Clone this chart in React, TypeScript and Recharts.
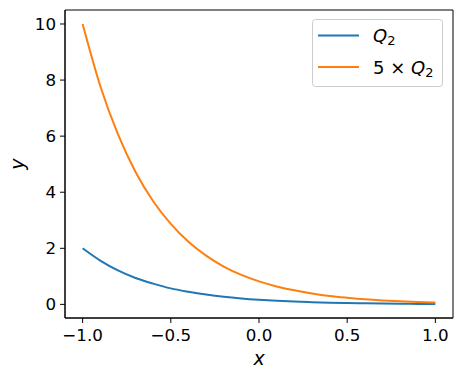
import React from 'react';
import { LineChart, Line, XAxis, YAxis, Legend, ReferenceArea } from 'recharts';

const xValues = [-1.0, -0.9, -0.8, -0.7, -0.6, -0.5, -0.4, -0.3, -0.2, -0.1, 0.0, 0.1, 0.2, 0.3, 0.4, 0.5, 0.6, 0.7, 0.8, 0.9, 1.0];
const q2Values = [2.0, 1.56, 1.21, 0.94, 0.74, 0.57, 0.45, 0.35, 0.27, 0.21, 0.164, 0.128, 0.1, 0.078, 0.06, 0.047, 0.036, 0.028, 0.022, 0.017, 0.0135];
const fiveQ2Values = [10.0, 7.79, 6.07, 4.72, 3.68, 2.87, 2.23, 1.74, 1.35, 1.05, 0.82, 0.64, 0.5, 0.39, 0.3, 0.235, 0.18, 0.14, 0.11, 0.087, 0.067];
const xTicks = [-1.0, -0.5, 0.0, 0.5, 1.0];
const yTicks = [0, 2, 4, 6, 8, 10];
const xDomain = [-1.1, 1.1];
const yDomain = [-0.486, 10.499];

const BLUE = '#1f77b4';
const ORANGE = '#ff7f0e';
const FONT = 'DejaVu Sans, sans-serif';
const TICK_SIZE = 16.7;

const data = xValues.map((x, i) => ({ x, q2: q2Values[i], q2x5: fiveQ2Values[i] }));

const fmtX = (v: number) => v.toFixed(1).replace('-', '\u2212');

const LegendBox = () => (
  <svg width={132} height={69} style={{ display: 'block' }}>
    <rect x={0.5} y={0.5} width={130} height={67} rx={3} ry={3} fill="rgba(255,255,255,0.8)" stroke="#cccccc" strokeWidth={1} />
    <line x1={6} x2={47} y1={16.5} y2={16.5} stroke={BLUE} strokeWidth={2} />
    <line x1={6} x2={47} y1={48} y2={48} stroke={ORANGE} strokeWidth={2} />
    <text x={61} y={23} fontFamily={FONT} fontSize={18} fill="#000">
      <tspan fontStyle="italic">Q</tspan>
      <tspan fontSize={13} dy={3}>2</tspan>
    </text>
    <text x={61} y={54.5} fontFamily={FONT} fontSize={18} fill="#000">
      <tspan>5 × </tspan>
      <tspan fontStyle="italic">Q</tspan>
      <tspan fontSize={13} dy={3}>2</tspan>
    </text>
  </svg>
);

export default function App() {
  return (
    <div style={{ position: 'absolute', left: 0, top: 0, background: '#fff' }}>
      <LineChart width={462} height={380} data={data} margin={{ top: 10, right: 9, bottom: 12, left: 0 }}>
        <XAxis
          dataKey="x"
          type="number"
          domain={xDomain}
          ticks={xTicks}
          tickFormatter={fmtX}
          height={50}
          tickSize={5}
          tickMargin={6}
          stroke="#000"
          tick={{ fill: '#000', fontSize: TICK_SIZE, fontFamily: FONT }}
          label={{
            content: (p: any) => {
              const vb = p.viewBox || {};
              return (
                <text x={vb.x + vb.width / 2} y={vb.y + 47} textAnchor="middle" fontFamily={FONT} fontStyle="italic" fontSize={19} fill="#000">x</text>
              );
            },
          }}
        />
        <YAxis
          type="number"
          domain={yDomain}
          ticks={yTicks}
          width={65}
          tickSize={5}
          tickMargin={4}
          stroke="#000"
          tick={{ fill: '#000', fontSize: TICK_SIZE, fontFamily: FONT }}
          label={{
            content: (p: any) => {
              const vb = p.viewBox || {};
              const cx = 24;
              const cy = vb.y + vb.height / 2;
              return (
                <text x={cx} y={cy} transform={`rotate(-90, ${cx}, ${cy})`} textAnchor="middle" fontFamily={FONT} fontStyle="italic" fontSize={19} fill="#000">y</text>
              );
            },
          }}
        />
        <ReferenceArea x1={xDomain[0]} x2={xDomain[1]} y1={yDomain[0]} y2={yDomain[1]} fill="none" stroke="#000" strokeWidth={1} fillOpacity={0} />
        <Line type="monotone" dataKey="q2" name="Q2" stroke={BLUE} strokeWidth={2} dot={false} isAnimationActive={false} />
        <Line type="monotone" dataKey="q2x5" name="5 × Q2" stroke={ORANGE} strokeWidth={2} dot={false} isAnimationActive={false} />
        <Legend
          layout="vertical"
          align="center"
          verticalAlign="middle"
          content={() => <LegendBox />}
          wrapperStyle={{ left: 312, top: 19, width: 132, height: 69 }}
        />
      </LineChart>
    </div>
  );
}
